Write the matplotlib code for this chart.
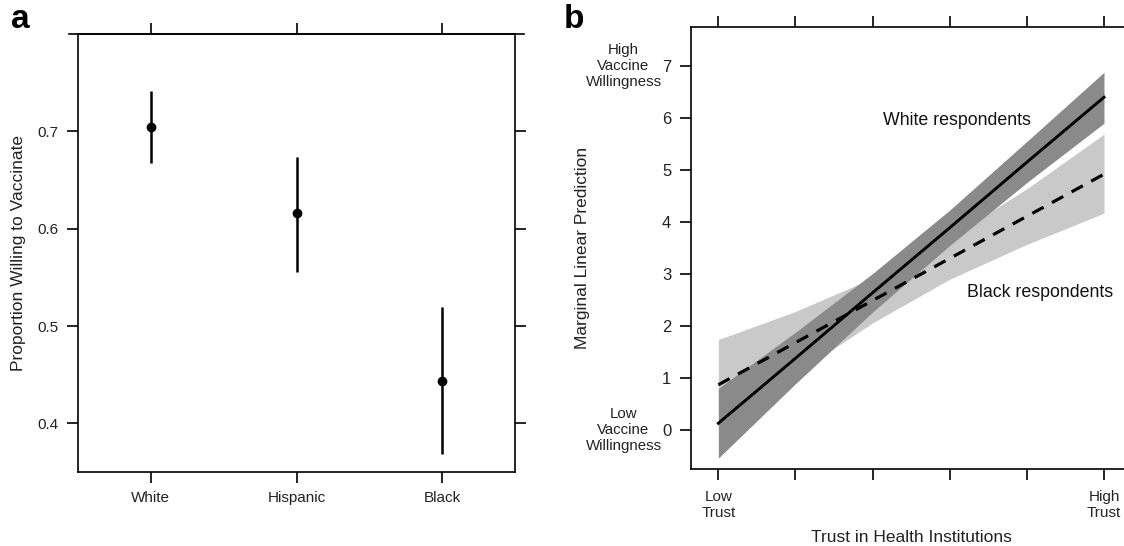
import matplotlib
matplotlib.use("Agg")
import matplotlib.pyplot as plt
import numpy as np

plt.rcParams['font.family'] = ['Liberation Sans', 'DejaVu Sans']

# panel a: proportion willing to vaccinate
groups = ['White', 'Hispanic', 'Black']
prop = [0.704, 0.616, 0.443]
prop_lo = [0.667, 0.555, 0.368]
prop_hi = [0.741, 0.674, 0.520]

# panel b: marginal linear prediction by trust level
trust = [0, 1, 2, 3, 4, 5]
white_pred = [0.13, 1.38, 2.64, 3.89, 5.15, 6.40]
white_lo = [-0.54, 0.89, 2.27, 3.55, 4.76, 5.90]
white_hi = [0.80, 1.88, 3.01, 4.23, 5.55, 6.88]
black_pred = [0.87, 1.68, 2.49, 3.30, 4.11, 4.92]
black_lo = [0.00, 1.08, 2.06, 2.90, 3.57, 4.17]
black_hi = [1.74, 2.28, 2.92, 3.70, 4.64, 5.69]

txt = '#222222'
lw_ax = 1.2

fig = plt.figure(figsize=(11.24, 5.46), dpi=100)

# ---- panel a
ax1 = fig.add_axes([0.0694, 0.1355, 0.3888, 0.8022])
x = np.arange(1, len(groups) + 1)
p = np.array(prop)
ax1.errorbar(x, p, [p - np.array(prop_lo), np.array(prop_hi) - p],
             fmt='o', color='black', ms=6, lw=1.8, capsize=0)
ax1.set_xlim(0.5, 3.5)
ax1.set_ylim(0.35, 0.80)
ax1.set_xticks(x)
ax1.set_xticklabels(groups)
ax1.set_yticks([0.4, 0.5, 0.6, 0.7])
ax1.set_yticklabels(['0.4', '0.5', '0.6', '0.7'])
ax1.tick_params(direction='out', length=8, width=lw_ax, labelsize=11,
                colors='black', labelcolor=txt, top=True, right=True, pad=6)
ax1.set_ylabel('Proportion Willing to Vaccinate', fontsize=12.5, color=txt,
               labelpad=8)
for s in ax1.spines.values():
    s.set_linewidth(lw_ax)
# top border runs a little past the sides
ax1.plot([-0.021, 1.021], [1, 1], transform=ax1.transAxes, clip_on=False,
         color='black', lw=lw_ax)

# ---- panel b
ax2 = fig.add_axes([0.6144, 0.141, 0.3925, 0.8095])
ax2.fill_between(trust, black_lo, black_hi, color='#c9c9c9', lw=0)
ax2.fill_between(trust, white_lo, white_hi, color='#8a8a8a', lw=0)
ax2.plot(trust, white_pred, color='black', lw=2.1)
ax2.plot(trust, black_pred, color='black', lw=2.3, ls=(0, (4, 3)))
ax2.set_xlim(-0.36, 5.36)
ax2.set_ylim(-0.75, 7.75)
ax2.set_xticks(trust)
ax2.set_xticklabels(['Low\nTrust', '', '', '', '', 'High\nTrust'])
ax2.set_yticks(range(8))
ax2.tick_params(direction='out', length=8, width=lw_ax, labelsize=12,
                colors='black', labelcolor=txt, top=True, right=True, pad=6)
ax2.tick_params(axis='x', labelsize=11, pad=7)
ax2.set_xlabel('Trust in Health Institutions', fontsize=12.5, color=txt,
               labelpad=7)
ax2.set_ylabel('Marginal Linear Prediction', fontsize=12.5, color=txt,
               labelpad=52)
for s in ax2.spines.values():
    s.set_linewidth(lw_ax)

ax2.text(-0.152, 7, 'High\nVaccine\nWillingness', transform=ax2.get_yaxis_transform(),
         ha='center', va='center', fontsize=10.8, color=txt, linespacing=1.15)
ax2.text(-0.152, 0, 'Low\nVaccine\nWillingness', transform=ax2.get_yaxis_transform(),
         ha='center', va='center', fontsize=10.8, color=txt, linespacing=1.15)
ax2.text(3.09, 5.96, 'White respondents', ha='center', va='center',
         fontsize=12.8, color='#111111')
ax2.text(4.17, 2.65, 'Black respondents', ha='center', va='center',
         fontsize=12.8, color='#111111')

fig.text(0.010, 0.935, 'a', fontsize=24, weight='bold', va='bottom')
fig.text(0.502, 0.935, 'b', fontsize=24, weight='bold', va='bottom')

fig.savefig('out.png', dpi=100)
